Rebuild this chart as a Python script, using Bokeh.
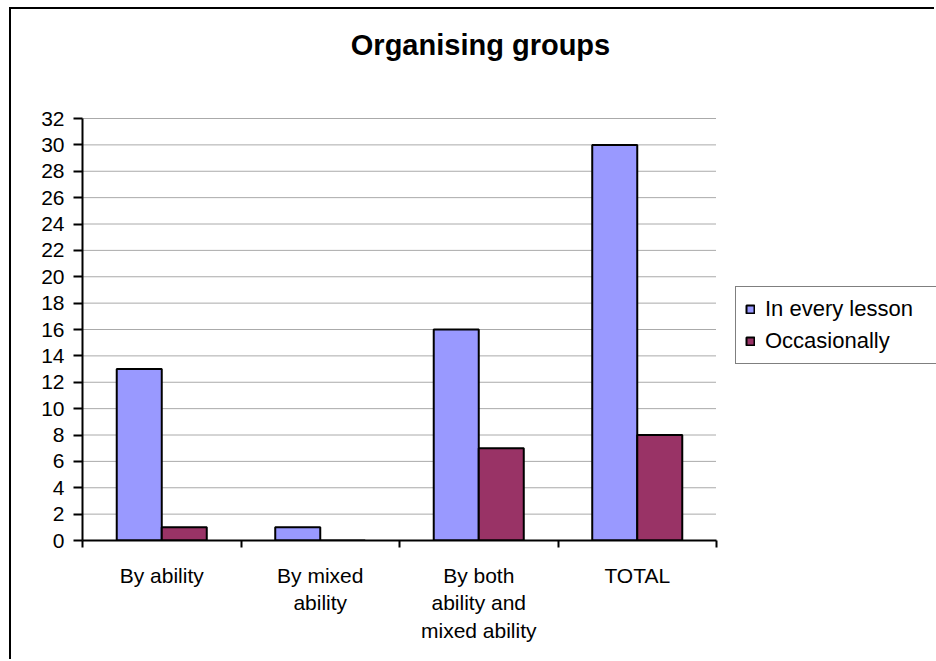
from bokeh.plotting import figure
from bokeh.models import Range1d, FixedTicker, Legend, LegendItem, Label, ColumnDataSource
from bokeh.transform import dodge
from bokeh.embed import file_html
from bokeh.resources import INLINE

# ---- data -------------------------------------------------------------
categories = ["By ability", "By mixed ability",
              "By both ability and mixed ability", "TOTAL"]
category_labels = ["By ability", "By mixed\nability",
                   "By both\nability and\nmixed ability", "TOTAL"]
in_every_lesson = [13, 1, 16, 30]
occasionally = [1, 0, 7, 8]
series_names = ["In every lesson", "Occasionally"]
series_colors = ["#9999FF", "#993366"]
y_ticks = list(range(0, 33, 2))
y_max = 32
title_text = "Organising groups"

FONT = "Liberation Sans"
n = len(categories)
# each category occupies one unit slot; bars sit around the slot centre
slot_centres = [i + 0.5 for i in range(n)]

# geometry of the chart area (pixels inside the canvas)
W, H = 925, 652
LEFT, BOTTOM = 71, 121
PLOT_W, PLOT_H = 634, 422          # extent of the bar area
frame_w, frame_h = W - LEFT, H - BOTTOM
# the frame also hosts the title and the legend, so the ranges run past
# the bar area; axes and gridlines are bounded to it
x_end = n * frame_w / PLOT_W
y_end = y_max * frame_h / PLOT_H

p = figure(width=W, height=H,
           x_range=Range1d(0, x_end), y_range=Range1d(0, y_end),
           output_backend="svg", toolbar_location=None, title_location=None,
           min_border_left=LEFT, min_border_right=0,
           min_border_top=0, min_border_bottom=BOTTOM,
           outline_line_color=None,
           background_fill_color="white", border_fill_color="white",
           margin=(7, 0, 0, 9),
           styles={"border-top": "2px solid black",
                   "border-left": "2px solid black"})

# category axis: labels at slot centres, tick marks on slot boundaries
xaxis = p.xaxis[0]
xaxis.bounds = (0, n)
xaxis.ticker = FixedTicker(ticks=slot_centres, minor_ticks=list(range(n + 1)))
xaxis.major_label_overrides = {c: lab for c, lab in zip(slot_centres, category_labels)}
xaxis.major_tick_out = 0
xaxis.major_tick_in = 0
xaxis.minor_tick_out = 7
xaxis.minor_tick_in = 0
xaxis.minor_tick_line_width = 2
xaxis.minor_tick_line_color = "black"
xaxis.axis_line_width = 2
xaxis.axis_line_color = "black"
xaxis.major_label_standoff = 16
xaxis.major_label_text_font = FONT
xaxis.major_label_text_font_size = "21px"
xaxis.major_label_text_color = "black"

# value axis
yaxis = p.yaxis[0]
yaxis.bounds = (0, y_max)
yaxis.ticker = FixedTicker(ticks=y_ticks)
yaxis.major_tick_out = 9
yaxis.major_tick_in = 0
yaxis.minor_tick_out = 0
yaxis.minor_tick_in = 0
yaxis.major_tick_line_width = 2
yaxis.major_tick_line_color = "black"
yaxis.axis_line_width = 2
yaxis.axis_line_color = "black"
yaxis.major_label_standoff = 9
yaxis.major_label_text_font = FONT
yaxis.major_label_text_font_size = "21px"
yaxis.major_label_text_color = "black"

p.xgrid.visible = False
p.ygrid.visible = False

# dotted horizontal gridlines across the bar area only
p.segment(x0=0, x1=n, y0=y_ticks, y1=y_ticks, line_color="#555555",
          line_dash="1 1", line_width=1)

# bars
src = ColumnDataSource(dict(slot=slot_centres, cat=categories,
                            a=in_every_lesson, b=occasionally))
bar_w = 0.284
r1 = p.vbar(x=dodge("slot", -bar_w / 2), top="a", width=bar_w,
            source=src, fill_color=series_colors[0], line_color="black",
            line_width=2)
r2 = p.vbar(x=dodge("slot", bar_w / 2), top="b", width=bar_w,
            source=src, fill_color=series_colors[1], line_color="black",
            line_width=2)

# legend to the right of the bars
legend = Legend(items=[LegendItem(label=series_names[0], renderers=[r1]),
                       LegendItem(label=series_names[1], renderers=[r2])],
                location=(PLOT_W + 19, 176), margin=0, padding=9, spacing=6,
                glyph_width=10, glyph_height=10, label_standoff=10,
                label_width=200,
                label_text_font=FONT, label_text_font_size="22px",
                label_text_color="black",
                border_line_color="black", border_line_width=1.5,
                background_fill_color="white", background_fill_alpha=1)
p.add_layout(legend, "center")

# chart title
p.add_layout(Label(x=398, y=496, x_units="screen", y_units="screen",
                   text=title_text, text_align="center",
                   text_baseline="middle", text_font=FONT,
                   text_font_size="29px", text_font_style="bold",
                   text_color="black"))

open("out.html", "w").write(file_html(p, INLINE))
